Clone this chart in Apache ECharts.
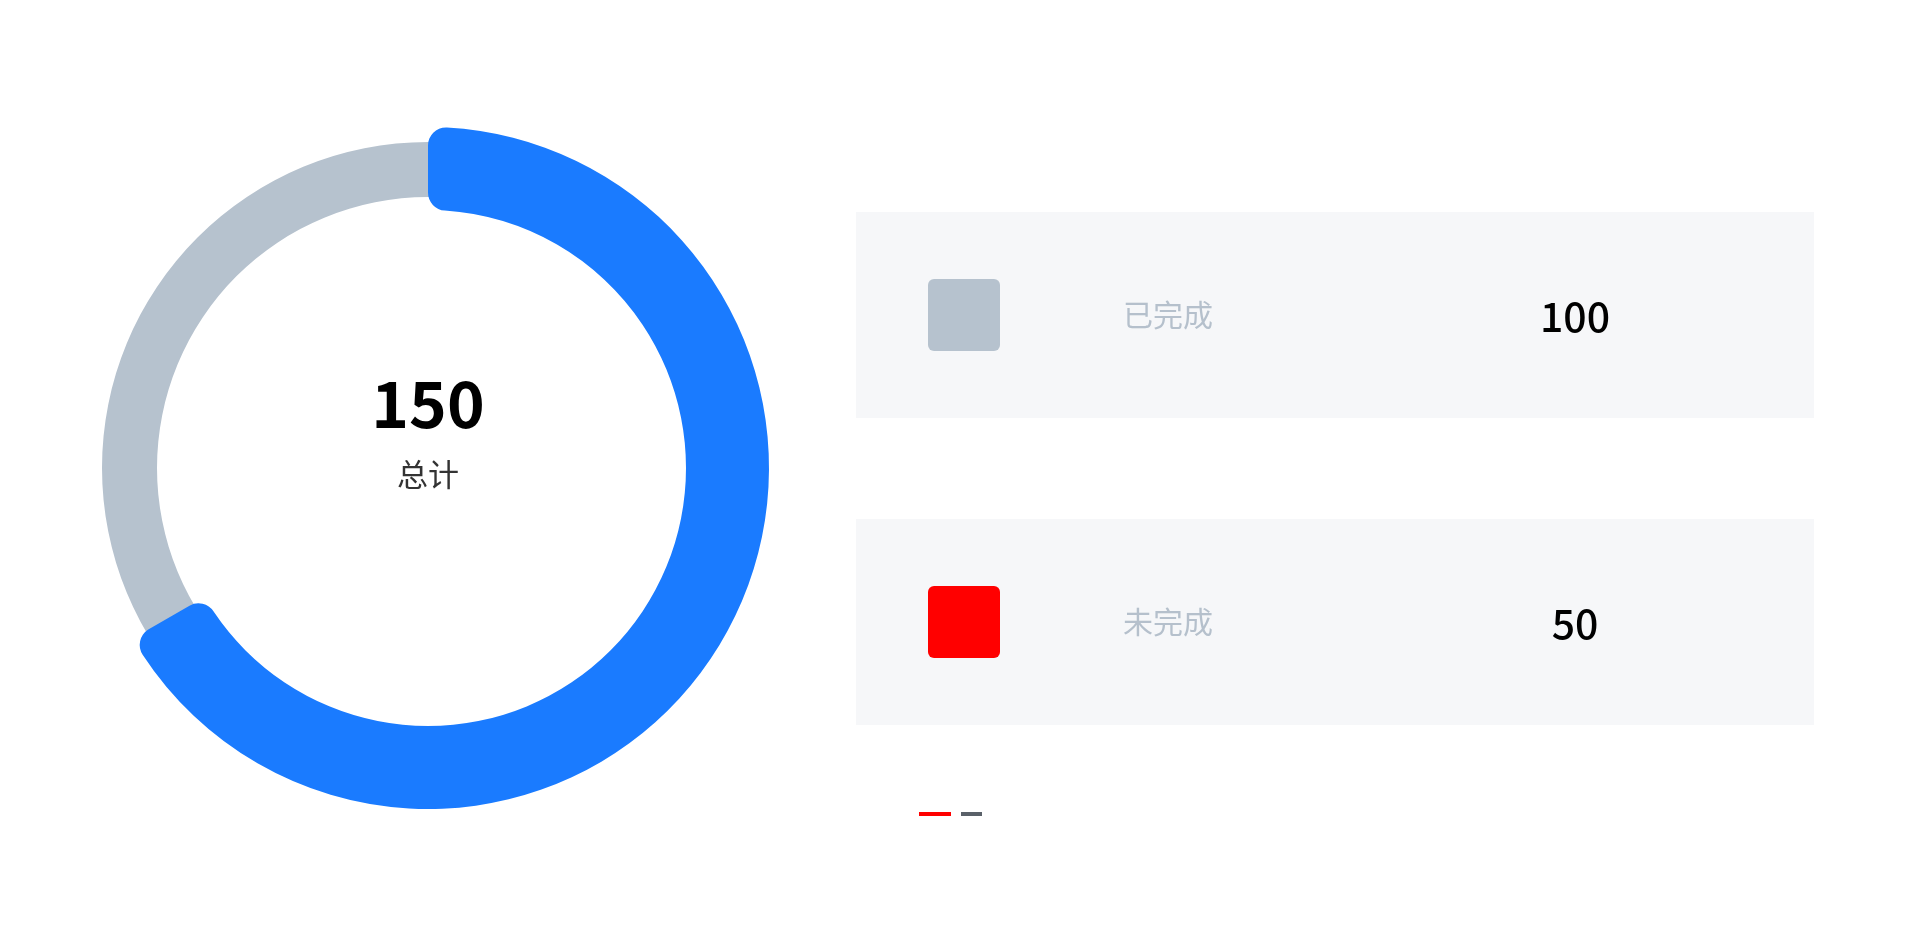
<!DOCTYPE html>
<html>
<head>
<meta charset="utf-8">
<script src="https://cdn.jsdelivr.net/npm/echarts@6/dist/echarts.min.js"></script>
<style>
html,body{margin:0;padding:0;background:#fff;overflow:hidden;}
#chart{width:1920px;height:937px;}
</style>
</head>
<body>
<div id="chart"></div>
<script>
// ---- data ----
const categories = ['已完成', '未完成'];
const values = [100, 50];
const swatchColors = ['#b6c2ce', '#ff0000'];
const totalLabel = '总计';
const pageDots = ['active', 'inactive'];

const total = values.reduce((a, b) => a + b, 0);

const chart = echarts.init(document.getElementById('chart'));

const CX = 428, CY = 468;
const FONT = '"Noto Sans CJK SC", "Noto Sans", sans-serif';

const graphics = [];
// center texts
graphics.push(
  { type: 'text', x: CX, y: 404, z: 10, style: { text: String(total), fill: '#000', font: 'bold 64px ' + FONT, align: 'center', verticalAlign: 'middle' } },
  { type: 'text', x: CX, y: 474, z: 10, style: { text: totalLabel, fill: '#333', font: '31px ' + FONT, align: 'center', verticalAlign: 'middle' } }
);

// panels
const panelX = 856, panelW = 958, panelH = 206;
const panelTops = [212, 519];
categories.forEach((name, i) => {
  const top = panelTops[i];
  graphics.push({
    type: 'group', x: panelX, y: top,
    children: [
      { type: 'rect', shape: { x: 0, y: 0, width: panelW, height: panelH }, style: { fill: '#f6f7f9' } },
      { type: 'rect', shape: { x: 72, y: 67, width: 72, height: 72, r: 6 }, style: { fill: swatchColors[i] } },
      { type: 'text', x: 312, y: 103, style: { text: name, fill: '#b5c0cc', font: '30px ' + FONT, align: 'center', verticalAlign: 'middle' } },
      { type: 'text', x: 719, y: 104, style: { text: String(values[i]), fill: '#000', font: '500 41px ' + FONT, align: 'center', verticalAlign: 'middle' } }
    ]
  });
});

// page indicator
const dotStyles = { active: { w: 32, fill: '#ff0000' }, inactive: { w: 21, fill: '#5a6169' } };
let dx = 919;
pageDots.forEach(d => {
  const s = dotStyles[d];
  graphics.push({ type: 'rect', shape: { x: dx, y: 812, width: s.w, height: 4 }, style: { fill: s.fill } });
  dx += s.w + 10;
});

chart.setOption({
  animation: false,
  graphic: graphics,
  series: [
    {
      type: 'pie', silent: true, z: 1,
      center: [CX, CY], radius: [271, 326],
      label: { show: false }, labelLine: { show: false },
      itemStyle: { color: '#b6c2ce' },
      data: [{ value: total, name: 'bg' }]
    },
    {
      type: 'pie', silent: true, z: 2,
      center: [CX, CY], radius: [258, 341],
      startAngle: 90, clockwise: true,
      label: { show: false }, labelLine: { show: false },
      data: [
        { value: values[0], name: categories[0], itemStyle: { color: '#1a7bff', borderRadius: 18 } },
        { value: values[1], name: categories[1], itemStyle: { color: 'transparent' } }
      ]
    }
  ]
});
</script>
</body>
</html>
